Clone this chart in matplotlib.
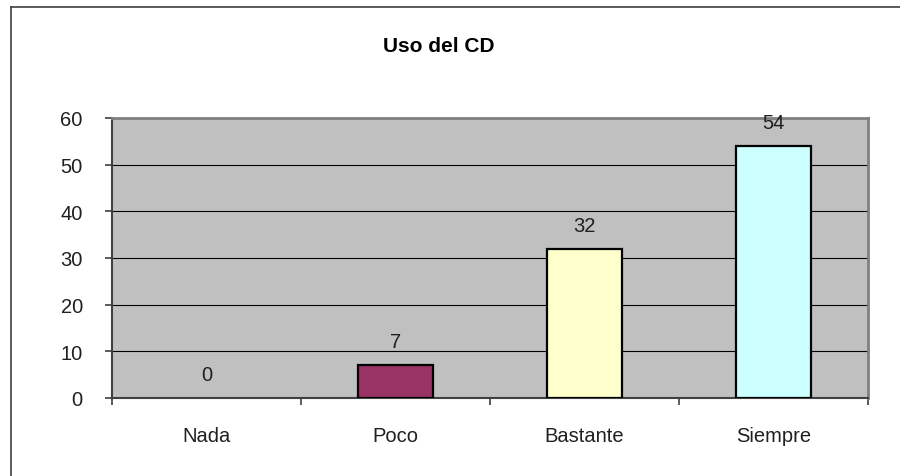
import matplotlib
matplotlib.use('Agg')
import matplotlib.pyplot as plt
from matplotlib.lines import Line2D
import numpy as np

plt.rcParams['font.family'] = ['Liberation Sans', 'DejaVu Sans']

categorias = ['Nada', 'Poco', 'Bastante', 'Siempre']
valores = [0, 7, 32, 54]
colores = ['#9999FF', '#993366', '#FFFFCC', '#CCFFFF']

W, H = 900, 477
fig = plt.figure(figsize=(W / 100, H / 100), dpi=100)

# marco exterior del gráfico
fig.add_artist(Line2D([11 / W, 11 / W], [0, 1 - 8 / H], color='#404040', lw=1.2))
fig.add_artist(Line2D([11 / W, 1], [1 - 8 / H, 1 - 8 / H], color='#404040', lw=1.2))

ax = fig.add_axes([112 / W, (H - 399) / H, (868 - 112) / W, (399 - 119) / H])
ax.set_facecolor('#C0C0C0')

x = np.arange(len(categorias))
barras = ax.bar(x, valores, width=0.40, color=colores, edgecolor='black', linewidth=1.6, zorder=3)
for b, v in zip(barras, valores):
    if v == 0:
        b.set_linewidth(0)

for xi, v in zip(x, valores):
    ax.annotate(str(v), (xi, v), xytext=(0, 10), textcoords='offset points',
                ha='center', va='bottom', fontsize=14.5, color='#202020')

ax.set_xlim(-0.5, len(categorias) - 0.5)
ax.set_ylim(0, 60)
ax.set_yticks(range(0, 61, 10))
ax.yaxis.grid(True, color='black', lw=0.8, zorder=1)
ax.set_axisbelow(True)

ax.set_xticks(x)
ax.set_xticklabels(categorias, fontsize=14.5, color='#202020')
ax.set_xticks(np.arange(-0.5, len(categorias)), minor=True)
ax.tick_params(axis='x', which='major', length=0, pad=20)
ax.tick_params(axis='x', which='minor', length=5, width=1.2, color='#404040')
ax.tick_params(axis='y', length=5, width=1.2, color='#404040', pad=16, labelsize=14.5, labelcolor='#202020')

for lado in ['left', 'bottom']:
    ax.spines[lado].set_color('#404040')
    ax.spines[lado].set_linewidth(1.5)
for lado in ['top', 'right']:
    ax.spines[lado].set_color('#808080')
    ax.spines[lado].set_linewidth(2)

fig.text(439 / W, 1 - 46 / H, 'Uso del CD', ha='center', va='center',
         fontsize=15, fontweight='bold')

fig.savefig('out.png', dpi=100)
